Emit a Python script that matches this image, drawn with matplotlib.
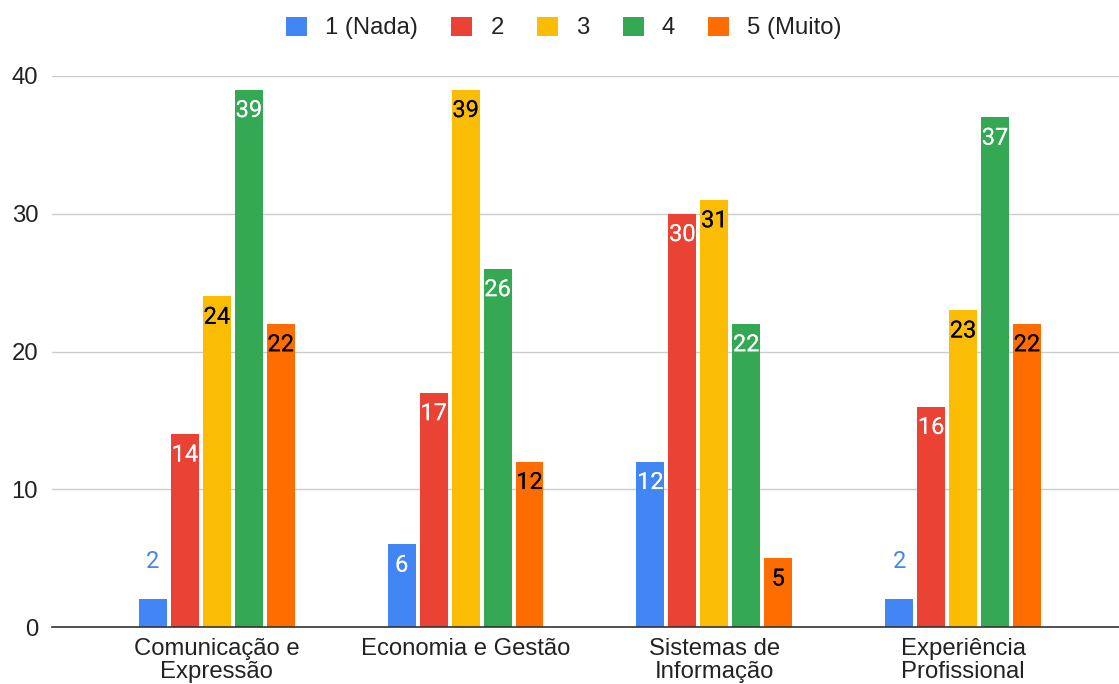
import numpy as np
import matplotlib.pyplot as plt
import matplotlib.patheffects as pe

plt.rcParams['font.family'] = ['Liberation Sans', 'DejaVu Sans']

categories = ['Comunicação e\nExpressão', 'Economia e Gestão', 'Sistemas de\nInformação', 'Experiência\nProfissional']
series_names = ['1 (Nada)', '2', '3', '4', '5 (Muito)']
values = [
    [2, 6, 12, 2],     # 1 (Nada)
    [14, 17, 30, 16],  # 2
    [24, 39, 31, 23],  # 3
    [39, 26, 22, 37],  # 4
    [22, 12, 5, 22],   # 5 (Muito)
]
colors = ['#4285F4', '#EA4335', '#FBBC04', '#34A853', '#FF6D01']
label_colors = ['white', 'white', 'black', 'white', 'black']

W, H = 1119, 684
fig = plt.figure(figsize=(W / 100, H / 100), dpi=100)
ax = fig.add_axes([52 / W, 57 / H, 1 - 52 / W, (627 - 76) / H])

x = np.arange(len(categories))
step = 0.1285
width = 0.112
for i, (name, vals) in enumerate(zip(series_names, values)):
    pos = x + (i - 2) * step
    ax.bar(pos, vals, width, color=colors[i], label=name, zorder=3)
    for px, v in zip(pos, vals):
        if v < 4:  # too small, label goes above the bar
            ax.annotate(str(v), (px, v), xytext=(0, 27), textcoords='offset points',
                        ha='center', va='center', fontsize=17, family='Roboto',
                        color=colors[i], zorder=4)
        else:
            ax.annotate(str(v), (px, v), xytext=(0, -15), textcoords='offset points',
                        ha='center', va='center', fontsize=17, family='Roboto',
                        color=label_colors[i], zorder=4,
                        path_effects=[pe.withStroke(linewidth=2, foreground=colors[i]), pe.Normal()])

ax.set_xlim(-0.663, 3.627)
ax.set_ylim(0, 40)
ax.set_yticks([0, 10, 20, 30, 40])
ax.set_xticks(x)
ax.set_xticklabels(categories, linespacing=1.05)
ax.tick_params(axis='both', length=0, labelsize=17.2, colors='#222222')
ax.tick_params(axis='x', pad=8)
ax.tick_params(axis='y', pad=10)
ax.grid(axis='y', color='#cccccc', linewidth=1, zorder=0)
for s in ['top', 'right', 'left']:
    ax.spines[s].set_visible(False)
ax.spines['bottom'].set_color('#333333')
ax.spines['bottom'].set_linewidth(1.2)
ax.spines['bottom'].set_zorder(5)

ax.legend(loc='center', bbox_to_anchor=(564 / W, 1 - 28 / H), bbox_transform=fig.transFigure,
          ncol=5, frameon=False, fontsize=17.2, handlelength=0.87, handleheight=0.87,
          columnspacing=1.4, handletextpad=0.76, labelcolor='#222222')

fig.savefig('out.png', dpi=100)
